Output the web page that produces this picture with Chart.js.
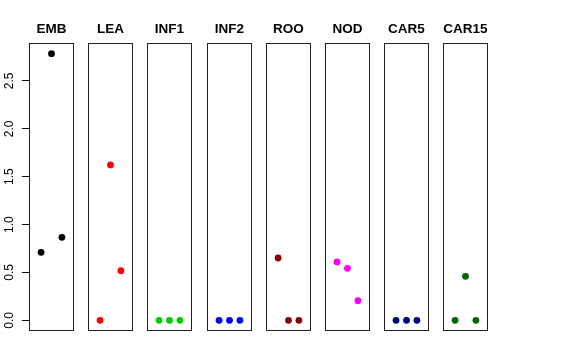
<!DOCTYPE html>
<html>
<head>
<meta charset="utf-8">
<script src="https://cdn.jsdelivr.net/npm/chart.js@4.4.1/dist/chart.umd.min.js"></script>
<style>
  body { margin: 0; background: #fff; }
  #wrap { position: relative; width: 576px; height: 360px; overflow: hidden; }
  #wrap canvas { position: absolute; top: 0; }
</style>
</head>
<body>
<div id="wrap"></div>
<script>
// one panel per tissue, three replicates each
const panels = ["EMB", "LEA", "INF1", "INF2", "ROO", "NOD", "CAR5", "CAR15"];
const colors = ["#000000", "#FF0000", "#00CD00", "#0000FF", "#8B0000", "#FF00FF", "#000080", "#006400"];
const replicates = [1, 2, 3];
const EMB = [0.71, 2.785, 0.867];
const LEA = [0, 1.623, 0.518];
const INF1 = [0, 0, 0];
const INF2 = [0, 0, 0];
const ROO = [0.651, 0, 0];
const NOD = [0.609, 0.543, 0.205];
const CAR5 = [0, 0, 0];
const CAR15 = [0, 0.46, 0];
const values = [EMB, LEA, INF1, INF2, ROO, NOD, CAR5, CAR15];
const yTicks = [0, 0.5, 1, 1.5, 2, 2.5];

// shared y range, R style 4% expansion
const allVals = values.flat();
const yLo = Math.min(...allVals), yHi = Math.max(...allVals);
const yPad = (yHi - yLo) * 0.04;
const xPad = 4 * 0.04;

// draws the box round each panel
const framePlugin = {
  id: "frame",
  afterDraw(chart) {
    const a = chart.chartArea;
    const ctx = chart.ctx;
    ctx.save();
    ctx.strokeStyle = "#222";
    ctx.lineWidth = 1;
    ctx.strokeRect(Math.round(a.left) + 0.5, Math.round(a.top) + 0.5,
      Math.round(a.right - a.left) - 1, Math.round(a.bottom - a.top) - 1);
    ctx.restore();
  }
};

const wrap = document.getElementById("wrap");
const axisW = 29;
const boxW = 45;

panels.forEach(function (name, i) {
  const first = i === 0;
  const boxLeft = Math.round(29 + i * 59.19);
  const canvas = document.createElement("canvas");
  const w = first ? axisW * 2 + boxW : boxW;
  canvas.width = w;
  canvas.height = 360;
  canvas.style.left = (first ? 0 : boxLeft) + "px";
  canvas.style.width = w + "px";
  canvas.style.height = "360px";
  wrap.appendChild(canvas);

  const scales = {
    x: { type: "linear", display: false, min: 0 - xPad, max: 4 + xPad },
    y: {
      type: "linear",
      display: first,
      min: yLo - yPad,
      max: yHi + yPad,
      afterBuildTicks: (scale) => { scale.ticks = yTicks.map(v => ({ value: v })); },
      border: { display: false },
      grid: { drawOnChartArea: false, drawTicks: true, tickLength: 7, color: "#000" },
      ticks: {
        color: "#000",
        font: { family: "'Liberation Sans', Arial, sans-serif", size: 12 },
        minRotation: 90,
        maxRotation: 90,
        crossAlign: "center",
        padding: 4,
        callback: (v) => Number(v).toFixed(1),
      },
    },
  };
  if (first) {
    scales.y.afterFit = (scale) => { scale.width = axisW; };
    // empty axis on the right, same width, so the title sits over the box
    scales.yRight = {
      type: "linear",
      position: "right",
      min: yLo - yPad,
      max: yHi + yPad,
      border: { display: false },
      grid: { display: false },
      ticks: { display: false },
      afterFit: (scale) => { scale.width = axisW; },
    };
  }

  new Chart(canvas.getContext("2d"), {
    type: "scatter",
    data: {
      datasets: [{
        data: replicates.map((r, k) => ({ x: r, y: values[i][k] })),
        backgroundColor: colors[i],
        borderColor: colors[i],
        pointRadius: 3.4,
        pointBorderWidth: 0,
      }],
    },
    options: {
      responsive: false,
      animation: false,
      devicePixelRatio: 1,
      layout: { autoPadding: false, padding: { top: 0, bottom: 29, left: 0, right: 0 } },
      plugins: {
        legend: { display: false },
        tooltip: { enabled: false },
        title: {
          display: true,
          text: name,
          color: "#000",
          font: { family: "'Liberation Sans', Arial, sans-serif", size: 13.5, weight: "bold", lineHeight: 1.2 },
          padding: { top: 21.4, bottom: 5.4 },
        },
      },
      scales: scales,
    },
    plugins: [framePlugin],
  });
});
</script>
</body>
</html>
